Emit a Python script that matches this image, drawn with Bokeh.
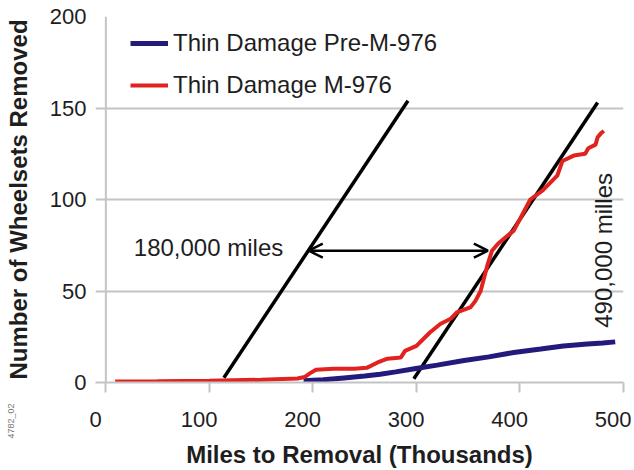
import math
from bokeh.plotting import figure
from bokeh.models import (Range1d, LinearAxis, FixedTicker, Label, Arrow, OpenHead,
                          Legend, LegendItem, CustomJSTickFormatter, Span, Title)
from bokeh.embed import file_html
from bokeh.resources import INLINE

# ---- data (thousands of miles, wheelsets removed) ----
pre_x = [191, 210, 230, 250, 265, 280, 298, 320, 346, 370, 394, 420, 442, 465, 480, 492]
pre_y = [1, 1.5, 2.5, 3.5, 4.5, 5.8, 7.5, 9.5, 12, 14, 16.4, 18.3, 20, 21, 21.6, 22.2]

m976_x = [9, 50, 100, 150, 185, 192, 197, 203, 220, 240, 252, 262, 272, 285, 289, 300,
          313, 323, 333, 339, 352, 357, 362, 369, 373, 379, 394, 410, 422, 436, 441,
          452, 463, 466, 473, 475, 478, 481]
m976_y = [0.5, 0.7, 1, 1.5, 2.2, 3, 5, 7, 7.5, 7.5, 8, 10.8, 13, 13.7, 17.3, 20,
          27.3, 32, 34.8, 38.3, 41, 44.6, 50, 65, 72, 76, 83, 100, 105, 113, 121,
          124, 125, 128, 130, 134, 136, 137.5]

guide1_x = [114, 291.8]
guide1_y = [2.6, 154]
guide2_x = [297.5, 475]
guide2_y = [2, 153]

arrow_x = [196, 369]
arrow_y = 72

x_ticks = [0, 100, 200, 300, 400, 500]
y_ticks = [0, 50, 100, 150, 200]

series_names = ["Thin Damage Pre-M-976", "Thin Damage M-976"]
note_left = "180,000 miles"
note_right = "490,000 milles"
fig_id = "4782_02"

FONT = "Liberation Sans"
TXT = "#1e1e1e"
GRID = "#c4c4c4"
BLUE = "#241a7c"
RED = "#e2221f"

p = figure(width=632, height=470, output_backend="svg", toolbar_location=None,
           x_range=Range1d(-10, 500), y_range=Range1d(0, 200),
           x_axis_type=None, min_border_left=95, min_border_right=9,
           min_border_top=16, min_border_bottom=88)
p.outline_line_color = None
p.background_fill_color = "white"
p.border_fill_color = "white"

# y axis
ya = p.yaxis[0]
ya.ticker = FixedTicker(ticks=y_ticks)
ya.axis_line_color = None
ya.major_tick_line_color = None
ya.major_tick_out = 0
ya.major_tick_in = 0
ya.minor_tick_line_color = None
ya.major_label_text_font = FONT
ya.major_label_text_font_size = "22px"
ya.major_label_text_color = TXT
ya.major_label_standoff = 9
ya.axis_label = "Number of Wheelsets Removed"
ya.axis_label_text_font = FONT
ya.axis_label_text_font_style = "bold"
ya.axis_label_text_font_size = "24px"
ya.axis_label_text_color = TXT
ya.axis_label_standoff = 15

# small figure id, rotated, at the far left below the plot area
fid = Title(text=fig_id, align="left", offset=-56, text_font=FONT, text_font_size="9px",
            text_font_style="normal", text_color="#777777")
try:
    fid.standoff = -28
except Exception:
    fid.standoff = 0
p.add_layout(fid, "left")

p.ygrid.ticker = FixedTicker(ticks=y_ticks)
p.ygrid.grid_line_color = GRID
p.ygrid.grid_line_width = 2
p.xgrid.grid_line_color = None

# y axis line at x = 0
p.add_layout(Span(location=0, dimension="height", line_color=GRID, line_width=2))

# x axis: line + ticks
xa = LinearAxis(ticker=FixedTicker(ticks=x_ticks),
                formatter=CustomJSTickFormatter(code="return ''"),
                axis_line_color=GRID, axis_line_width=2,
                major_tick_line_color=GRID, major_tick_line_width=2,
                major_tick_out=10, major_tick_in=0, minor_tick_line_color=None,
                major_label_text_font_size="1px", major_label_standoff=0)
p.add_layout(xa, "below")

# x axis labels, slightly left of their ticks as in the original
p.extra_x_ranges = {"lbl": Range1d(0, 510)}
xl = LinearAxis(x_range_name="lbl", ticker=FixedTicker(ticks=x_ticks),
                axis_line_color=None, major_tick_line_color=None, minor_tick_line_color=None,
                major_tick_out=0, major_tick_in=0,
                major_label_text_font=FONT, major_label_text_font_size="22px",
                major_label_text_color=TXT, major_label_standoff=19,
                axis_label="Miles to Removal (Thousands)", axis_label_text_font=FONT,
                axis_label_text_font_style="bold", axis_label_text_font_size="24px",
                axis_label_text_color=TXT, axis_label_standoff=11)
p.add_layout(xl, "below")

# guide lines
p.line(guide1_x, guide1_y, line_color="black", line_width=3.5)
p.line(guide2_x, guide2_y, line_color="black", line_width=3.5)

# series
r_pre = p.line(pre_x, pre_y, line_color=BLUE, line_width=5)
r_m = p.line(m976_x, m976_y, line_color=RED, line_width=4)

# arrow
p.add_layout(Arrow(x_start=arrow_x[0], x_end=arrow_x[1], y_start=arrow_y, y_end=arrow_y,
                   line_width=2.5, line_color="black",
                   start=OpenHead(size=14, line_width=2.5, line_color="black"),
                   end=OpenHead(size=14, line_width=2.5, line_color="black")))

p.add_layout(Label(x=27, y=74, text=note_left, text_font=FONT, text_font_size="24px",
                   text_color=TXT, text_align="left", text_baseline="middle"))
p.add_layout(Label(x=480.5, y=72.2, text=note_right, text_font=FONT, text_font_size="24px",
                   text_color=TXT, text_align="center", text_baseline="middle",
                   angle=math.pi / 2))

legend = Legend(items=[LegendItem(label=series_names[0], renderers=[r_pre]),
                       LegendItem(label=series_names[1], renderers=[r_m])],
                location=(35, 278), orientation="vertical",
                glyph_width=38, glyph_height=38, label_height=38, spacing=4,
                label_standoff=5, padding=0, margin=0,
                label_text_font=FONT, label_text_font_size="24px", label_text_color=TXT,
                border_line_color=None, background_fill_alpha=0)
p.add_layout(legend)

open("out.html", "w").write(file_html(p, INLINE))
